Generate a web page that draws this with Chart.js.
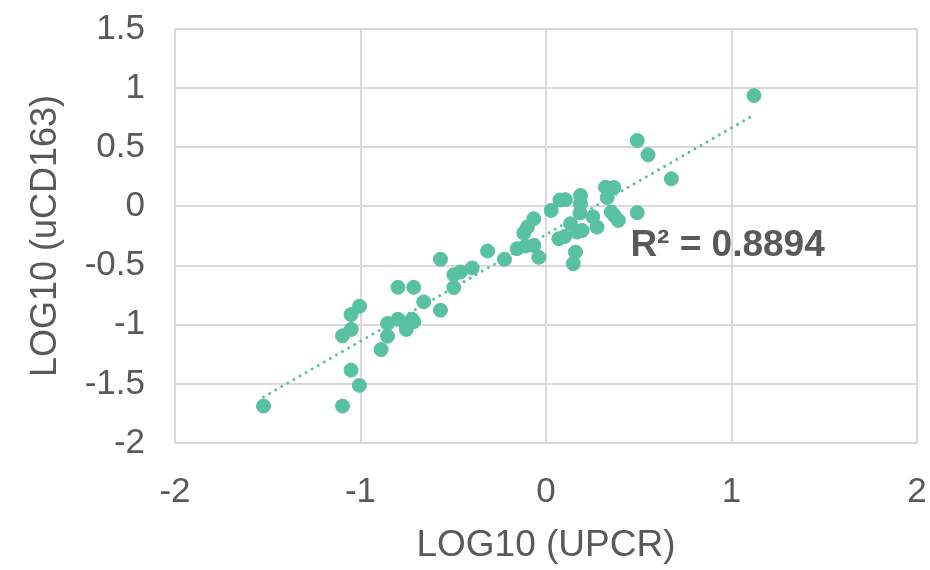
<!DOCTYPE html>
<html>
<head>
<meta charset="utf-8">
<script src="https://cdn.jsdelivr.net/npm/chart.js@4/dist/chart.umd.min.js"></script>
<style>
  html, body { margin: 0; padding: 0; background: #fff; }
  #wrap { width: 930px; height: 570px; }
</style>
</head>
<body>
<div id="wrap"><canvas id="chart"></canvas></div>
<script>
// LOG10(UPCR) vs LOG10(uCD163)
const upcrLog = [
  -1.523, -1.097, -1.006, -1.051, -1.097, -1.050, -1.051, -1.005, -0.889, -0.854,
  -0.854, -0.798, -0.722, -0.713, -0.753, -0.798, -0.713, -0.659, -0.569, -0.569,
  -0.497, -0.497, -0.461, -0.398, -0.315, -0.224, -0.155, -0.111, -0.066, -0.039,
  -0.120, -0.100, -0.066, 0.028, 0.075, 0.105, 0.186, 0.186, 0.183, 0.069,
  0.100, 0.132, 0.168, 0.195, 0.159, 0.147, 0.252, 0.275, 0.321, 0.366,
  0.330, 0.352, 0.370, 0.390, 0.492, 0.492, 0.550, 0.676, 1.121
];
const cd163Log = [
  -1.688, -1.688, -1.513, -1.384, -1.094, -1.040, -0.914, -0.844, -1.210, -1.097,
  -0.990, -0.954, -0.954, -0.975, -1.040, -0.684, -0.684, -0.807, -0.878, -0.447,
  -0.686, -0.577, -0.554, -0.520, -0.377, -0.447, -0.357, -0.335, -0.330, -0.430,
  -0.225, -0.175, -0.104, -0.034, 0.055, 0.057, 0.093, 0.023, -0.056, -0.273,
  -0.255, -0.146, -0.217, -0.203, -0.386, -0.484, -0.087, -0.175, 0.163, 0.160,
  0.075, -0.048, -0.080, -0.118, -0.053, 0.557, 0.436, 0.234, 0.937
];
const xTicks = [-2, -1, 0, 1, 2];
const yTicks = [-2, -1.5, -1, -0.5, 0, 0.5, 1, 1.5];
const r2Text = 'R\u00B2 = 0.8894';

const green = '#57c1a1';
const textGrey = '#595959';
const gridGrey = '#d9d9d9';
const fontFamily = '"Liberation Sans", Arial, sans-serif';

const points = upcrLog.map((x, i) => ({ x: x, y: cd163Log[i] }));

// least squares trendline over the points
function linearFit(xs, ys) {
    const n = xs.length;
    const mx = xs.reduce((a, b) => a + b, 0) / n;
    const my = ys.reduce((a, b) => a + b, 0) / n;
    let sxy = 0, sxx = 0;
    for (let i = 0; i < n; i++) {
        sxy += (xs[i] - mx) * (ys[i] - my);
        sxx += (xs[i] - mx) * (xs[i] - mx);
    }
    const slope = sxy / sxx;
    return { slope: slope, intercept: my - slope * mx };
}

const fit = linearFit(upcrLog, cd163Log);
const xMin = Math.min(...upcrLog);
const xMax = Math.max(...upcrLog);
const trend = [
    { x: xMin, y: fit.slope * xMin + fit.intercept },
    { x: xMax, y: fit.slope * xMax + fit.intercept }
];

// R² label next to the cloud
const r2Label = {
    id: 'r2Label',
    afterDatasetsDraw(chart) {
        const ctx = chart.ctx;
        const xs = chart.scales.x, ys = chart.scales.y;
        ctx.save();
        ctx.font = 'bold 37px ' + fontFamily;
        ctx.fillStyle = textGrey;
        ctx.textAlign = 'left';
        ctx.textBaseline = 'middle';
        ctx.fillText(r2Text, xs.getPixelForValue(0.455), ys.getPixelForValue(-0.33));
        ctx.restore();
    }
};

new Chart(document.getElementById('chart'), {
    type: 'scatter',
    data: {
        datasets: [
            {
                label: 'trend',
                type: 'line',
                data: trend,
                borderColor: green,
                borderWidth: 3,
                borderDash: [0.01, 7],
                borderCapStyle: 'round',
                pointRadius: 0,
                fill: false,
                order: 2
            },
            {
                label: 'points',
                data: points,
                backgroundColor: green,
                borderColor: green,
                pointRadius: 7,
                pointHoverRadius: 7,
                order: 1
            }
        ]
    },
    options: {
        responsive: true,
        maintainAspectRatio: false,
        animation: false,
        layout: { padding: { top: 29, right: 13, left: 0, bottom: 0 } },
        plugins: {
            legend: { display: false },
            tooltip: { enabled: false }
        },
        scales: {
            x: {
                type: 'linear',
                min: -2,
                max: 2,
                afterBuildTicks: s => { s.ticks = xTicks.map(v => ({ value: v })); },
                afterFit: s => {
                    s.height = 127;
                    s.paddingLeft = 0;
                    s.paddingRight = 0;
                },
                grid: { color: gridGrey, lineWidth: 2, drawTicks: false },
                border: { display: false },
                ticks: {
                    color: textGrey,
                    padding: 28,
                    font: { family: fontFamily, size: 35 },
                    callback: v => String(v)
                },
                title: {
                    display: true,
                    text: 'LOG10 (UPCR)',
                    color: textGrey,
                    font: { family: fontFamily, size: 37 },
                    padding: { top: 0, bottom: 2 }
                }
            },
            y: {
                type: 'linear',
                min: -2,
                max: 1.5,
                afterBuildTicks: s => { s.ticks = yTicks.map(v => ({ value: v })); },
                afterFit: s => {
                    s.width = 175;
                    s.paddingTop = 0;
                    s.paddingBottom = 0;
                },
                grid: { color: gridGrey, lineWidth: 2, drawTicks: false },
                border: { display: false },
                ticks: {
                    color: textGrey,
                    padding: 30,
                    font: { family: fontFamily, size: 35 },
                    callback: v => String(v)
                },
                title: {
                    display: true,
                    text: 'LOG10 (uCD163)',
                    color: textGrey,
                    font: { family: fontFamily, size: 36 },
                    padding: { top: 24, bottom: 0 }
                }
            }
        }
    },
    plugins: [r2Label]
});
</script>
</body>
</html>
